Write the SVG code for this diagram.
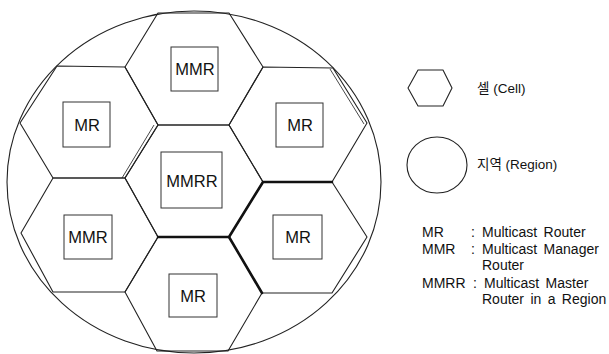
<svg xmlns="http://www.w3.org/2000/svg" width="609" height="354" viewBox="0 0 609 354">
<style>
.hex{fill:none;stroke:#222;stroke-width:1.1;stroke-linejoin:round}
.box{fill:#fff;stroke:#333;stroke-width:1}
.lbl{font-family:"Liberation Sans",Arial,sans-serif;font-size:16.5px;fill:#111;text-anchor:middle}
.thick{fill:none;stroke:#111;stroke-width:2.6;stroke-linecap:round;stroke-linejoin:round}
.dbl{fill:none;stroke:#333;stroke-width:0.9}
.leg{font-family:"Liberation Sans",Arial,sans-serif;font-size:14px;fill:#111}
.legk{font-family:"Liberation Sans","Noto Sans CJK KR",sans-serif;font-size:13.5px;fill:#111}
</style>
<rect width="609" height="354" fill="#fff"/>
<g id="region">
<ellipse cx="194" cy="182" rx="187" ry="171" fill="none" stroke="#222" stroke-width="1.1"/>
<path class="dbl" d="M330,69 L364,124"/>
<path class="dbl" d="M154,125 L122,178"/>
</g>
<g id="cell-top-mmr">
<polygon class="hex" points="158,13 229,13 263,67 229,125 158,125 125,67"/>
<rect class="box" x="171" y="47" width="47" height="44"/>
<text class="lbl" x="195" y="75">MMR</text>
</g>
<g id="cell-upper-left-mr">
<polygon class="hex" points="57,66 125,67 158,125 125,178 53,178 20,123"/>
<rect class="box" x="63" y="102" width="47" height="45"/>
<text class="lbl" x="87" y="131">MR</text>
</g>
<g id="cell-upper-right-mr">
<polygon class="hex" points="263,67 333,68 367,123 332,182 263,182 229,125"/>
<rect class="box" x="276" y="103" width="47" height="44"/>
<text class="lbl" x="300" y="131">MR</text>
</g>
<g id="cell-center-mmrr">
<polygon class="hex" points="158,125 229,125 263,182 229,237 158,237 125,178"/>
<rect class="box" x="161" y="152" width="61" height="56"/>
<text class="lbl" x="192" y="187">MMRR</text>
</g>
<g id="cell-lower-left-mmr">
<polygon class="hex" points="53,178 125,178 158,237 125,292 53,292 21,233"/>
<rect class="box" x="64" y="215" width="48" height="44"/>
<text class="lbl" x="88" y="243">MMR</text>
</g>
<g id="cell-lower-right-mr">
<polygon class="hex" points="263,182 332,182 367,237 332,293 262,293 229,237"/>
<rect class="box" x="273" y="215" width="49" height="44"/>
<text class="lbl" x="298" y="243">MR</text>
</g>
<g id="cell-bottom-mr">
<polygon class="hex" points="158,237 229,237 262,293 228,351 157,351 125,292"/>
<rect class="box" x="169" y="274" width="48" height="43"/>
<text class="lbl" x="193" y="302">MR</text>
</g>
<g id="connectors">
<path class="thick" d="M158,237 L229,237 L263,182 L332,182"/>
<path class="thick" d="M229,237 L262,293"/>
</g>
<g id="legend-cell">
<polygon class="hex" points="418,70 443,70 452,88 443,106 418,106 408,88"/>
<text class="legk" x="477" y="93">셀 (Cell)</text>
</g>
<g id="legend-region">
<ellipse cx="437" cy="165" rx="30" ry="28" fill="none" stroke="#222" stroke-width="1.1"/>
<text class="legk" x="477" y="169">지역 (Region)</text>
</g>
<g id="legend-abbr">
<text class="leg" x="422" y="237">MR</text>
<text class="leg" x="471" y="237">:</text>
<text class="leg" x="482" y="237" word-spacing="2.5">Multicast Router</text>
<text class="leg" x="422" y="254">MMR</text>
<text class="leg" x="471" y="254">:</text>
<text class="leg" x="482" y="254" word-spacing="2.5">Multicast Manager</text>
<text class="leg" x="482" y="270">Router</text>
<text class="leg" x="422" y="288">MMRR</text>
<text class="leg" x="473" y="288">:</text>
<text class="leg" x="484" y="288" word-spacing="2.5">Multicast Master</text>
<text class="leg" x="482" y="304" word-spacing="2.5">Router in a Region</text>
</g>
</svg>
